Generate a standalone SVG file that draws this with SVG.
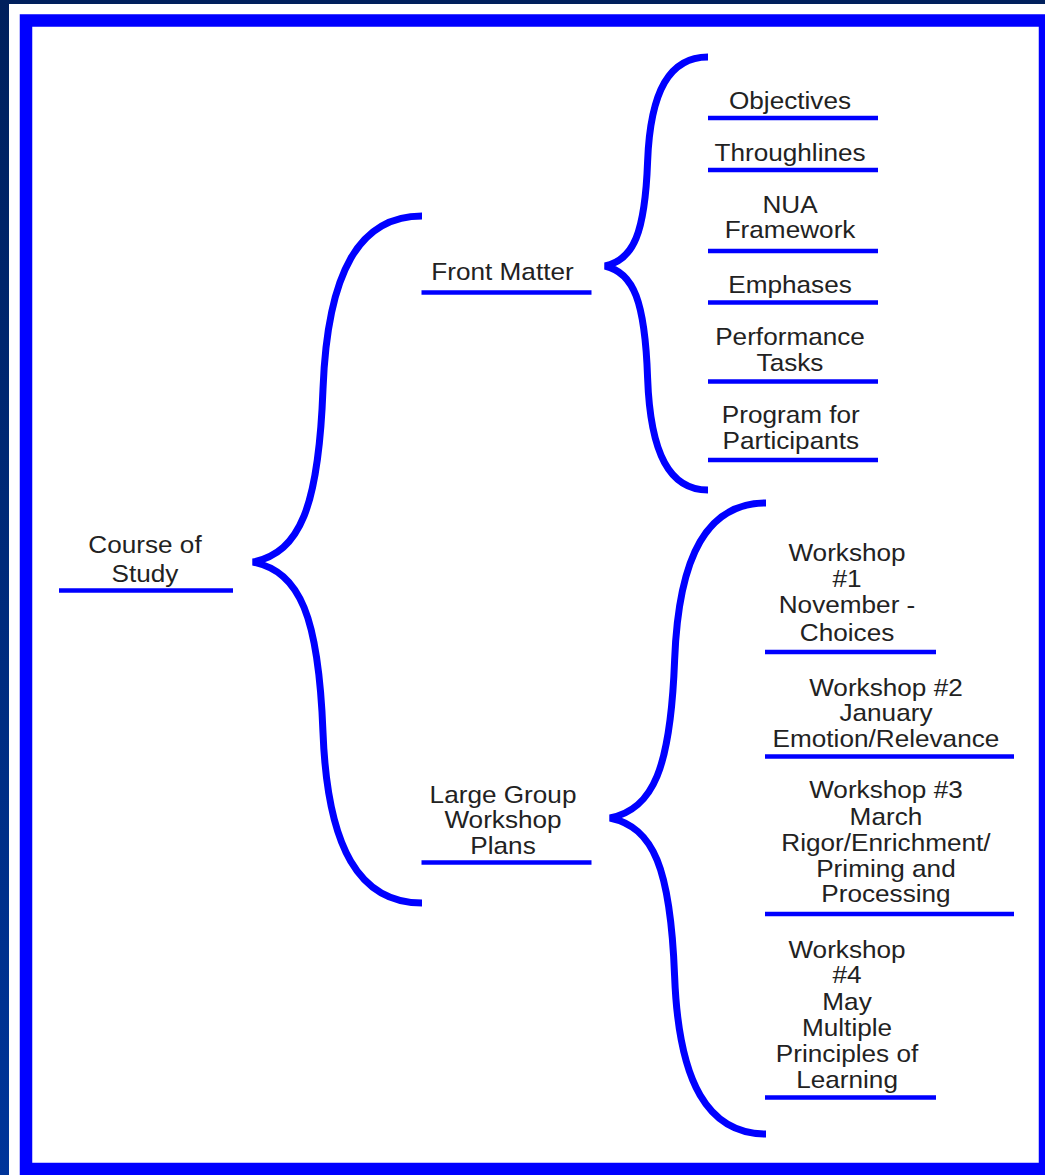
<svg xmlns="http://www.w3.org/2000/svg" width="1045" height="1175" viewBox="0 0 1045 1175">
  <defs>
    <linearGradient id="bg" x1="0" y1="0" x2="0" y2="1">
      <stop offset="0" stop-color="#00205c"/>
      <stop offset="1" stop-color="#00359a"/>
    </linearGradient>
    <style>
      .brace { fill: none; stroke: #0000ff; stroke-width: 7; stroke-linejoin: bevel; }
      .ul { stroke: #0000ff; stroke-width: 4.5; }
      .t { font-family: "Liberation Sans", Arial, Helvetica, sans-serif; font-size: 24px; fill: #222222; text-anchor: middle; }
    </style>
  </defs>
  <rect x="0" y="0" width="1045" height="1175" fill="url(#bg)"/>
  <rect x="9" y="4" width="1036" height="1171" fill="#ffffff"/>
  <rect x="26" y="20.5" width="1019" height="1148.5" fill="none" stroke="#0000ff" stroke-width="12.5"/>

  <g id="connectors">
    <path class="brace" d="M422,216 C359.5,216 327.4,271.4 323,389 C318.6,506.6 300.3,552 253,562 C300.3,572 318.6,616.6 323,732.5 C327.4,848.4 359.5,903 422,903"/>
    <path class="brace" d="M708,57 C669.9,57 650.3,90.4 647.6,161.5 C645,232.6 633.8,259.9 605,266 C633.8,272.5 645,301.8 647.6,378 C650.3,454.2 669.9,490 708,490"/>
    <path class="brace" d="M766,503 C708.3,503 678.6,553.4 674.6,660.5 C670.5,767.6 653.7,808.9 610,818 C653.7,827.2 670.5,868.6 674.6,976 C678.6,1083.4 708.3,1134 766,1134"/>
  </g>

  <g id="course-of-study">
    <line class="ul" x1="59" y1="590.5" x2="233" y2="590.5"/>
    <text class="t" transform="scale(1.09,1)"><tspan x="133" y="553">Course of</tspan><tspan x="133" y="582.5">Study</tspan></text>
  </g>
  <g id="front-matter">
    <line class="ul" x1="421.5" y1="292.5" x2="591.5" y2="292.5"/>
    <text class="t" transform="scale(1.09,1)"><tspan x="461" y="280.5">Front Matter</tspan></text>
  </g>
  <g id="large-group">
    <line class="ul" x1="421.5" y1="862.5" x2="591.5" y2="862.5"/>
    <text class="t" transform="scale(1.09,1)"><tspan x="461.5" y="803">Large Group</tspan><tspan x="461.5" y="828.5">Workshop</tspan><tspan x="461.5" y="854">Plans</tspan></text>
  </g>

  <g id="objectives">
    <line class="ul" x1="708" y1="118" x2="878" y2="118"/>
    <text class="t" transform="scale(1.09,1)"><tspan x="724.8" y="109.5">Objectives</tspan></text>
  </g>
  <g id="throughlines">
    <line class="ul" x1="708" y1="170" x2="878" y2="170"/>
    <text class="t" transform="scale(1.09,1)"><tspan x="724.8" y="161.5">Throughlines</tspan></text>
  </g>
  <g id="nua-framework">
    <line class="ul" x1="708" y1="251" x2="878" y2="251"/>
    <text class="t" transform="scale(1.09,1)"><tspan x="724.8" y="213">NUA</tspan><tspan x="724.8" y="238.5">Framework</tspan></text>
  </g>
  <g id="emphases">
    <line class="ul" x1="708" y1="302.5" x2="878" y2="302.5"/>
    <text class="t" transform="scale(1.09,1)"><tspan x="724.8" y="293">Emphases</tspan></text>
  </g>
  <g id="performance-tasks">
    <line class="ul" x1="708" y1="381.5" x2="878" y2="381.5"/>
    <text class="t" transform="scale(1.09,1)"><tspan x="724.8" y="345.5">Performance</tspan><tspan x="724.8" y="371">Tasks</tspan></text>
  </g>
  <g id="program-participants">
    <line class="ul" x1="708" y1="460" x2="878" y2="460"/>
    <text class="t" transform="scale(1.09,1)"><tspan x="725.5" y="423.5">Program for</tspan><tspan x="725.5" y="449">Participants</tspan></text>
  </g>

  <g id="workshop-1">
    <line class="ul" x1="765" y1="652" x2="936" y2="652"/>
    <text class="t" transform="scale(1.09,1)"><tspan x="777.1" y="561.5">Workshop</tspan><tspan x="777.1" y="587.5">#1</tspan><tspan x="777.1" y="613.5">November -</tspan><tspan x="777.1" y="641">Choices</tspan></text>
  </g>
  <g id="workshop-2">
    <line class="ul" x1="765" y1="756.5" x2="1014" y2="756.5"/>
    <text class="t" transform="scale(1.09,1)"><tspan x="812.8" y="696.5">Workshop #2</tspan><tspan x="812.8" y="721.5">January</tspan><tspan x="812.8" y="747">Emotion/Relevance</tspan></text>
  </g>
  <g id="workshop-3">
    <line class="ul" x1="765" y1="914" x2="1014" y2="914"/>
    <text class="t" transform="scale(1.09,1)"><tspan x="812.8" y="798.5">Workshop #3</tspan><tspan x="812.8" y="825">March</tspan><tspan x="812.8" y="851">Rigor/Enrichment/</tspan><tspan x="812.8" y="877">Priming and</tspan><tspan x="812.8" y="902">Processing</tspan></text>
  </g>
  <g id="workshop-4">
    <line class="ul" x1="765" y1="1097.5" x2="936" y2="1097.5"/>
    <text class="t" transform="scale(1.09,1)"><tspan x="777.1" y="958">Workshop</tspan><tspan x="777.1" y="983.5">#4</tspan><tspan x="777.1" y="1010">May</tspan><tspan x="777.1" y="1036.5">Multiple</tspan><tspan x="777.1" y="1062">Principles of</tspan><tspan x="777.1" y="1088">Learning</tspan></text>
  </g>
</svg>
